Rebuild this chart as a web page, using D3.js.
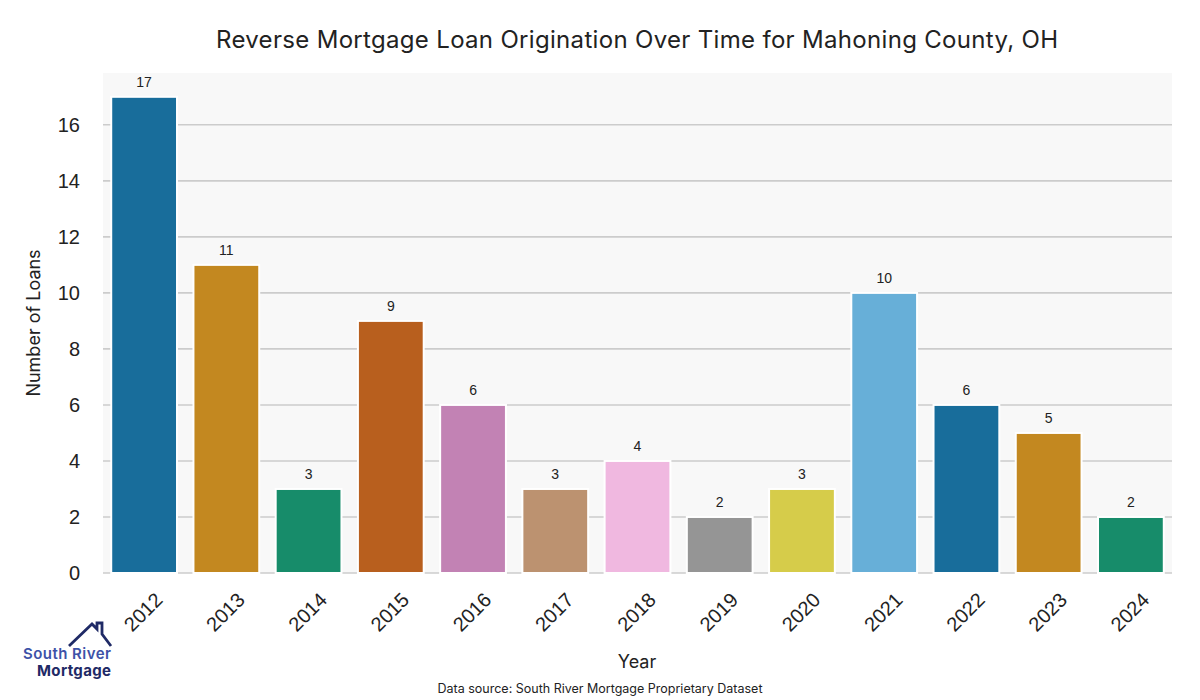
<!DOCTYPE html>
<html>
<head>
<meta charset="utf-8">
<script src="https://cdn.jsdelivr.net/npm/d3@7"></script>
<style>
  body { margin: 0; background: #fff; }
  svg { display: block; }
</style>
</head>
<body>
<svg id="chart" width="1200" height="700"></svg>
<script>
const years = ["2012", "2013", "2014", "2015", "2016", "2017", "2018", "2019", "2020", "2021", "2022", "2023", "2024"];
const loans = [17, 11, 3, 9, 6, 3, 4, 2, 3, 10, 6, 5, 2];
const barColors = ["#186d9b", "#c38820", "#178c6a", "#b85f1e", "#c282b4", "#bc9270", "#f0b8e0", "#959595", "#d6cc4a", "#67afd8", "#186d9b", "#c38820", "#178c6a"];
const yTicks = [0, 2, 4, 6, 8, 10, 12, 14, 16];

const svg = d3.select("#chart");
const margin = { left: 103, right: 1172, top: 73, bottom: 573 };

const x = d3.scaleBand().domain(years).range([margin.left, margin.right]).paddingInner(0.2).paddingOuter(0.1);
const y = d3.scaleLinear().domain([0, 17.85]).range([margin.bottom, margin.top]);

// plot background
svg.append("rect")
  .attr("x", margin.left).attr("y", margin.top)
  .attr("width", margin.right - margin.left).attr("height", margin.bottom - margin.top)
  .attr("fill", "#f8f8f8");

// gridlines
svg.append("g").selectAll("line").data(yTicks).enter().append("line")
  .attr("x1", margin.left).attr("x2", margin.right)
  .attr("y1", d => y(d)).attr("y2", d => y(d))
  .attr("stroke", "#cccccc").attr("stroke-width", 1.6);

// bars
svg.append("g").selectAll("rect").data(loans).enter().append("rect")
  .attr("x", (d, i) => x(years[i]))
  .attr("y", d => y(d))
  .attr("width", x.bandwidth())
  .attr("height", d => y(0) - y(d))
  .attr("fill", (d, i) => barColors[i])
  .attr("stroke", "#ffffff").attr("stroke-width", 2);

// value labels
svg.append("g").selectAll("text").data(loans).enter().append("text")
  .attr("x", (d, i) => x(years[i]) + x.bandwidth() / 2)
  .attr("y", d => y(d) - 10)
  .attr("text-anchor", "middle")
  .attr("font-family", "Liberation Sans, Arial, sans-serif")
  .attr("font-size", 14).attr("fill", "#222")
  .text(d => d);

// y ticks
svg.append("g").selectAll("text").data(yTicks).enter().append("text")
  .attr("x", margin.left - 23)
  .attr("y", d => y(d))
  .attr("dy", "0.35em")
  .attr("text-anchor", "end")
  .attr("font-family", "Liberation Sans, Arial, sans-serif")
  .attr("font-size", 20).attr("fill", "#222")
  .text(d => d);

// x ticks rotated
svg.append("g").selectAll("text").data(years).enter().append("text")
  .attr("transform", d => `translate(${x(d) + x.bandwidth() / 2 - 1},${margin.bottom + 39}) rotate(-45)`)
  .attr("text-anchor", "middle")
  .attr("dy", "0.35em")
  .attr("font-family", "Liberation Sans, Arial, sans-serif")
  .attr("font-size", 20).attr("fill", "#222")
  .text(d => d);

// title
svg.append("text")
  .attr("x", 637).attr("y", 48)
  .attr("text-anchor", "middle")
  .attr("font-family", "Inter, sans-serif")
  .attr("font-size", 24).attr("fill", "#222")
  .attr("textLength", 842)
  .text("Reverse Mortgage Loan Origination Over Time for Mahoning County, OH");

// axis titles
svg.append("text")
  .attr("transform", "translate(40,323) rotate(-90)")
  .attr("text-anchor", "middle")
  .attr("font-family", "Inter, sans-serif")
  .attr("font-size", 18).attr("fill", "#222")
  .text("Number of Loans");

svg.append("text")
  .attr("x", 637).attr("y", 668)
  .attr("text-anchor", "middle")
  .attr("font-family", "Inter, sans-serif")
  .attr("font-size", 18).attr("fill", "#222")
  .text("Year");

svg.append("text")
  .attr("x", 600).attr("y", 693)
  .attr("text-anchor", "middle")
  .attr("font-family", "Inter, sans-serif")
  .attr("font-size", 12.5).attr("fill", "#222")
  .text("Data source: South River Mortgage Proprietary Dataset");

// logo
const logo = svg.append("g");
logo.append("path")
  .attr("d", "M69,646 L92,624 L97,629 L97,623 L102,623 L102,634 L111,646")
  .attr("fill", "none").attr("stroke", "#1f2a66").attr("stroke-width", 2.8)
  .attr("stroke-linejoin", "miter");
logo.append("text")
  .attr("x", 23).attr("y", 659)
  .attr("font-family", "Inter, sans-serif").attr("font-weight", 600)
  .attr("font-size", 15).attr("fill", "#3d52a8")
  .attr("textLength", 88)
  .text("South River");
logo.append("text")
  .attr("x", 37).attr("y", 676)
  .attr("font-family", "Inter, sans-serif").attr("font-weight", 700)
  .attr("font-size", 15).attr("fill", "#1f2a66")
  .attr("textLength", 74)
  .text("Mortgage");
</script>
</body>
</html>
